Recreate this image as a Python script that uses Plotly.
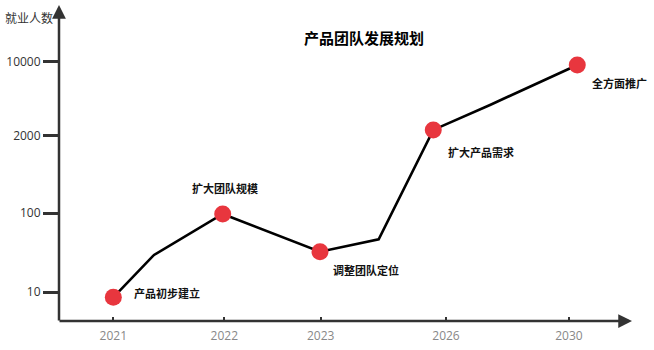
import plotly.graph_objects as go

# ---- data ----
x_tick_labels = ["2021", "2022", "2023", "2026", "2030"]
x_tick_pos = [9.48, 28.85, 45.67, 67.54, 89.0]          # timeline position (0-100 scale)
y_tick_labels = ["10", "100", "2000", "10000"]
y_tick_levels = [0.0, 1.029, 2.040, 3.0]                 # level scale of the drawn axis

path_x = [9.48, 16.58, 28.57, 45.55, 55.79, 65.32, 75.22, 90.45]
path_y = [-0.065, 0.486, 1.020, 0.529, 0.690, 2.115, 2.440, 2.961]

stage_x = [9.48, 28.57, 45.55, 65.32, 90.45]
stage_y = [-0.065, 1.020, 0.529, 2.115, 2.961]
stage_names = ["产品初步建立", "扩大团队规模", "调整团队定位", "扩大产品需求", "全方面推广"]
label_shift = [(54, 4), (2, 26), (46, -18), (48, -22), (42, -18)]

title_text = "产品团队发展规划"
y_title = "就业人数"

FONT = "Noto Sans CJK SC, Noto Sans, sans-serif"
NUMFONT = "Open Sans, Noto Sans CJK SC, sans-serif"
AX = "#333333"

fig = go.Figure()
fig.add_trace(go.Scatter(x=path_x, y=path_y, mode="lines",
                         line=dict(color="#000000", width=2.6), hoverinfo="skip",
                         showlegend=False))
fig.add_trace(go.Scatter(x=stage_x, y=stage_y, mode="markers",
                         marker=dict(color="#E8363E", size=17, line=dict(width=0)),
                         showlegend=False))

for sx, sy, name, (dx, dy) in zip(stage_x, stage_y, stage_names, label_shift):
    fig.add_annotation(x=sx, y=sy, xref="x", yref="y", text="<b>" + name + "</b>",
                       showarrow=False, xshift=dx, yshift=dy,
                       xanchor="center", yanchor="middle",
                       font=dict(family=FONT, size=11, color="#111111"))

# title
fig.add_annotation(x=0.532, y=0.8965, xref="paper", yref="paper",
                   text="<b>" + title_text + "</b>", showarrow=False,
                   xanchor="center", yanchor="middle",
                   font=dict(family=FONT, size=15, color="#000000"))
# y axis title
fig.add_annotation(x=-0.0515, y=0.962, xref="paper", yref="paper",
                   text=y_title, showarrow=False,
                   xanchor="center", yanchor="middle",
                   font=dict(family=FONT, size=12, color=AX))

# axis arrows
fig.add_annotation(x=0, y=1, xref="paper", yref="paper", ax=0, ay=317,
                   axref="pixel", ayref="pixel", showarrow=True, text="",
                   arrowhead=2, arrowsize=1.1, arrowwidth=2.5, arrowcolor=AX, standoff=0)
fig.add_annotation(x=1, y=0, xref="paper", yref="paper", ax=-574, ay=0,
                   axref="pixel", ayref="pixel", showarrow=True, text="",
                   arrowhead=2, arrowsize=1.1, arrowwidth=2.5, arrowcolor=AX, standoff=0)

fig.update_layout(
    width=654, height=350,
    margin=dict(l=59, r=22, t=5, b=29),
    paper_bgcolor="white", plot_bgcolor="white",
    font=dict(family=FONT),
    xaxis=dict(range=[0, 100], showgrid=False, zeroline=False, showline=False,
               tickmode="array", tickvals=x_tick_pos, ticktext=x_tick_labels,
               ticks="inside", ticklen=4, tickwidth=2, tickcolor=AX,
               ticklabelstandoff=6,
               tickfont=dict(family=NUMFONT, size=12, color="#888888"), fixedrange=True),
    yaxis=dict(range=[-0.374, 3.742], showgrid=False, zeroline=False, showline=False,
               tickmode="array", tickvals=y_tick_levels, ticktext=y_tick_labels,
               ticks="outside", ticklen=15, tickwidth=2.5, tickcolor=AX,
               tickfont=dict(family=NUMFONT, size=12, color=AX), fixedrange=True),
)

fig.write_html("out.html")
